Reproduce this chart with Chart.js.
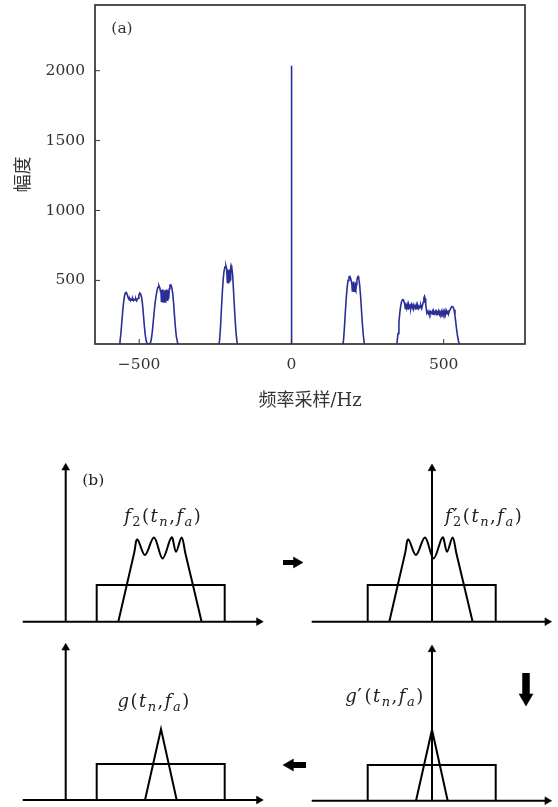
<!DOCTYPE html>
<html>
<head>
<meta charset="utf-8">
<script src="https://cdn.jsdelivr.net/npm/chart.js@4.4.0/dist/chart.umd.min.js"></script>
<style>
  body { margin: 0; background: #fff; width: 558px; height: 807px; position: relative; overflow: hidden; }
  canvas { position: absolute; }
</style>
</head>
<body>
<canvas id="spec" width="558" height="420" style="left:0;top:0"></canvas>
<canvas id="b1" width="279" height="200" style="left:0;top:430px"></canvas>
<canvas id="b2" width="279" height="200" style="left:279px;top:430px"></canvas>
<canvas id="b3" width="279" height="177" style="left:0;top:630px"></canvas>
<canvas id="b4" width="279" height="177" style="left:279px;top:630px"></canvas>
<script>
// ---- panel (a): spectrum ----
var xTicks = [-500, 0, 500];
var yTicks = [500, 1000, 1500, 2000];

var band1Freq = [-580, -566, -563, -560, -557, -554, -551, -548, -545, -542, -539, -536, -533,
  -531, -528.5, -526, -523.5, -521, -518.5, -516, -513.5, -511, -508.5, -506, -503.5,
  -501, -498, -495, -492, -489, -486, -483, -480, -477, -474, -471, -468];
var band1Amp = [0, 30, 60, 120, 200, 280, 345, 390, 412, 414, 398, 375, 362,
  368, 355, 366, 358, 370, 356, 364, 360, 368, 354, 365, 372,
  395, 410, 402, 378, 330, 255, 175, 110, 70, 48, 40, 40];

var band2Freq = [-465, -462, -459, -456, -453, -450, -447, -444, -441, -438, -435, -432, -430,
  -428.5, -427, -425.5, -424, -422.5, -421, -419.5, -418, -416.5, -415, -413.5, -412, -410.5, -409, -407.5, -406, -404.5,
  -403, -401, -399, -396, -393, -390, -387, -384, -381, -378, -374, -368];
var band2Amp = [45, 60, 95, 150, 220, 290, 350, 395, 430, 452, 462, 445, 420,
  432, 352, 428, 348, 436, 360, 422, 345, 430, 356, 428, 350, 434, 358, 424, 352, 430,
  368, 440, 466, 469, 450, 410, 340, 250, 165, 100, 55, 25, 0];

var band3Freq = [-250, -239, -236, -233, -230, -227, -224, -221, -218, -215, -213,
  -211.8, -210.6, -209.4, -208.2, -207, -205.8, -204.6, -203.4, -202.2, -201,
  -199.5, -198, -196, -193, -190, -187, -184, -181, -178, -175, -168];
var band3Amp = [0, 30, 70, 160, 290, 410, 510, 570, 598, 603, 585,
  540, 488, 572, 484, 556, 495, 578, 486, 562, 505,
  585, 606, 592, 540, 420, 300, 190, 105, 50, 22, 0];

var spikeFreq = [-1, 0, 1];
var spikeAmp = [0, 2035, 0];

var band4Freq = [160, 168, 171, 174, 177, 180, 183, 186, 189, 192, 195, 197,
  198.5, 200, 201.5, 203, 204.5, 206, 207.5, 209, 210.5, 212, 213.5,
  215, 217, 219, 221, 224, 227, 230, 233, 236, 239, 242, 250];
var band4Amp = [0, 30, 70, 160, 270, 370, 450, 500, 524, 528, 510, 490,
  470, 425, 482, 428, 492, 422, 476, 435, 486, 424, 470,
  500, 522, 528, 515, 470, 390, 290, 190, 110, 55, 25, 0];

var band5Freq = [335, 344, 347, 350, 353, 356, 359, 362, 365, 368, 370,
  372, 374, 376, 378, 380, 383, 385, 388, 390, 392, 395, 398, 400, 402, 405, 408, 410, 413, 415, 418, 420, 423, 425, 428, 430,
  433, 435, 437, 439, 441, 443, 445,
  447, 450, 452, 455, 457, 460, 463, 465, 468, 470, 473, 476, 478, 481, 483, 486, 488, 491, 494, 496, 499, 501, 504, 506, 509, 511, 514, 516, 519,
  522, 525, 528, 531, 534, 537, 540, 543, 546, 549, 552, 556, 565];
var band5Amp = [0, 30, 60, 120, 200, 270, 320, 350, 362, 360, 345,
  330, 300, 335, 305, 325, 295, 330, 310, 320, 298, 328, 305, 322, 300, 318, 302, 325, 298, 320, 300, 315, 305, 322, 300, 318,
  345, 375, 386, 370, 330, 290, 268,
  275, 262, 278, 260, 276, 265, 280, 258, 275, 262, 278, 255, 274, 262, 280, 258, 276, 260, 282, 256, 278, 262, 285, 255, 280, 262, 285, 260, 282,
  295, 308, 314, 310, 290, 250, 195, 140, 95, 62, 40, 20, 0];

// ---- panel (b): schematic shapes (units = px, origin at the axes crossing) ----
var pulseX = [0, 16, 19, 26.7, 35.7, 44.3, 53.3, 57.7, 63.3, 67, 83.3];
var pulseY = [0, 69.3, 82.3, 66.7, 84.3, 63.3, 84.3, 70, 84.3, 68.7, 0];
var triX = [-16, 0, 15.7];
var triY = [0, 71, 0];
var rectW = 128;

var lineColor = '#2a2e96';
var serif = "'DejaVu Serif'";

function zip(xs, ys) {
  return xs.map(function (x, i) { return { x: x, y: ys[i] }; });
}

var spectrum = [].concat(
  zip(band1Freq, band1Amp), zip(band2Freq, band2Amp), zip(band3Freq, band3Amp),
  zip(spikeFreq, spikeAmp), zip(band4Freq, band4Amp), zip(band5Freq, band5Amp));

function fmtTick(v) {
  return v < 0 ? '\u2212' + Math.abs(v) : String(v);
}

function fitAxis(size) {
  return function (s) {
    if (s.isHorizontal()) s.height = size; else s.width = size;
    s.paddingTop = 0; s.paddingBottom = 0; s.paddingLeft = 0; s.paddingRight = 0;
  };
}

var frame = {
  id: 'frame',
  afterDraw: function (chart) {
    var ctx = chart.ctx, a = chart.chartArea;
    ctx.save();
    ctx.strokeStyle = '#333';
    ctx.lineWidth = 1;
    ctx.beginPath();
    xTicks.forEach(function (v) {
      var x = chart.scales.x.getPixelForValue(v);
      ctx.moveTo(x, a.bottom); ctx.lineTo(x, a.bottom - 5);
    });
    yTicks.forEach(function (v) {
      var y = chart.scales.y.getPixelForValue(v);
      ctx.moveTo(a.left, y); ctx.lineTo(a.left + 5, y);
    });
    ctx.stroke();
    ctx.lineWidth = 1.7;
    ctx.strokeRect(a.left, a.top, a.right - a.left, a.bottom - a.top);
    ctx.fillStyle = '#333';
    ctx.font = '15.5px ' + serif;
    ctx.textAlign = 'center';
    ctx.textBaseline = 'middle';
    ctx.fillText('(a)', a.left + 27, a.top + 24);
    ctx.restore();
  }
};

new Chart(document.getElementById('spec'), {
  type: 'line',
  data: {
    datasets: [{
      data: spectrum,
      borderColor: lineColor,
      borderWidth: 1.6,
      pointRadius: 0,
      tension: 0
    }]
  },
  options: {
    responsive: false,
    animation: false,
    events: [],
    layout: { autoPadding: false, padding: { left: 0, top: 5, right: 33, bottom: 0 } },
    plugins: { legend: { display: false }, tooltip: { enabled: false } },
    scales: {
      x: {
        type: 'linear', min: -645, max: 767,
        afterBuildTicks: function (s) { s.ticks = xTicks.map(function (v) { return { value: v }; }); },
        afterFit: fitAxis(76),
        grid: { display: false, drawTicks: false },
        border: { display: false },
        ticks: { padding: 12, color: '#333', maxRotation: 0, font: { family: serif, size: 15.5 }, callback: fmtTick },
        title: { display: true, text: '频率采样/Hz', color: '#333',
          font: { family: serif + ", 'Noto Sans CJK SC'", size: 18 }, padding: { top: 0, bottom: 7.5 } }
      },
      y: {
        type: 'linear', min: 45, max: 2470,
        afterBuildTicks: function (s) { s.ticks = yTicks.map(function (v) { return { value: v }; }); },
        afterFit: fitAxis(95),
        grid: { display: false, drawTicks: false },
        border: { display: false },
        ticks: { padding: 10, color: '#333', font: { family: serif, size: 15.5 }, callback: fmtTick },
        title: { display: true, text: '幅度', color: '#333',
          font: { family: "'Noto Sans CJK SC'", size: 18 }, padding: { top: 11, bottom: 0 } }
      }
    }
  },
  plugins: [frame]
});

// ---- math labels for panel (b) ----
var labF2 = [['f', 'i'], ['2', 'sub'], ['(', 'r'], ['t', 'i'], ['n', 'subi'], [',', 'r'], ['f', 'i'], ['a', 'subi'], [')', 'r']];
var labF2p = [['f', 'i'], ['2', 'primesub'], ['(', 'r'], ['t', 'i'], ['n', 'subi'], [',', 'r'], ['f', 'i'], ['a', 'subi'], [')', 'r']];
var labG = [['g', 'i'], ['(', 'r'], ['t', 'i'], ['n', 'subi'], [',', 'r'], ['f', 'i'], ['a', 'subi'], [')', 'r']];
var labGp = [['g', 'i'], ['\u2032', 'sup'], ['(', 'r'], ['t', 'i'], ['n', 'subi'], [',', 'r'], ['f', 'i'], ['a', 'subi'], [')', 'r']];
var labB = [['(b)', 'r']];

function drawMath(ctx, segs, cx, cy, size) {
  var sm = Math.round(size * 0.72);
  var fonts = {
    i: 'italic ' + size + 'px ' + serif, r: size + 'px ' + serif,
    sub: sm + 'px ' + serif, subi: 'italic ' + sm + 'px ' + serif,
    pr: (size + 3) + 'px ' + serif
  };
  var gap = segs.length > 1 ? 1.5 : 0;
  var widths = segs.map(function (s) {
    if (s[1] === 'primesub') {
      ctx.font = fonts.pr; var w1 = ctx.measureText('\u2032').width;
      ctx.font = fonts.sub; var w2 = ctx.measureText(s[0]).width;
      return Math.max(w1, w2);
    }
    ctx.font = fonts[s[1] === 'sup' ? 'pr' : s[1]];
    return ctx.measureText(s[0]).width;
  });
  var total = widths.reduce(function (a, b) { return a + b + gap; }, -gap);
  var x = cx - total / 2, base = cy + size * 0.32;
  ctx.textAlign = 'left';
  ctx.textBaseline = 'alphabetic';
  segs.forEach(function (s, i) {
    var k = s[1];
    if (k === 'primesub') {
      ctx.font = fonts.pr; ctx.fillText('\u2032', x, base + 1);
      ctx.font = fonts.sub; ctx.fillText(s[0], x, base + 4);
    } else if (k === 'sup') {
      ctx.font = fonts.pr; ctx.fillText(s[0], x - 1, base + 1);
    } else {
      ctx.font = fonts[k];
      ctx.fillText(s[0], x, base + (k === 'sub' || k === 'subi' ? 4 : 0));
    }
    x += widths[i] + gap;
  });
}

var labelPlugin = {
  id: 'labels',
  afterDraw: function (chart) {
    var ctx = chart.ctx, sx = chart.scales.x, sy = chart.scales.y;
    ctx.save();
    ctx.fillStyle = '#222';
    (chart.options.mathLabels || []).forEach(function (l) {
      drawMath(ctx, l.segs, sx.getPixelForValue(l.x), sy.getPixelForValue(l.y), l.size);
    });
    ctx.restore();
  }
};

function blockArrow(b) {
  // shaft + triangular head, pointing from (x0,y0) to the tip (x1,y1)
  var r = b.head / Math.sqrt(3);
  var dx = Math.sign(b.x1 - b.x0), dy = Math.sign(b.y1 - b.y0);
  var cxh = b.x1 - dx * r, cyh = b.y1 - dy * r;
  var rot = dx > 0 ? 90 : dx < 0 ? 270 : (dy < 0 ? 180 : 0);
  return [
    { data: [{ x: b.x0, y: b.y0 }, { x: cxh, y: cyh }], borderColor: '#000', borderWidth: b.shaft,
      borderCapStyle: 'butt', showLine: true, pointRadius: 0 },
    { data: [{ x: cxh, y: cyh }], pointStyle: 'triangle', pointRadius: r, pointRotation: rot,
      pointBackgroundColor: '#000', pointBorderColor: '#000', pointBorderWidth: 0.5, showLine: false }
  ];
}

function makeDiagram(c) {
  var canvas = document.getElementById(c.id);
  var W = canvas.width, H = canvas.height;
  var black = '#000', lw = 2, ah = 4.5;
  var sets = [];
  var line = function (pts, extra) {
    var d = { data: pts, borderColor: black, borderWidth: lw, showLine: true, pointRadius: 0, tension: 0 };
    for (var k in extra) d[k] = extra[k];
    sets.push(d);
  };
  // axes
  line([{ x: c.hAxis[0], y: 0 }, { x: c.hAxis[1] - ah, y: 0 }]);
  line([{ x: 0, y: 0 }, { x: 0, y: c.vTip - ah }]);
  sets.push({ data: [{ x: c.hAxis[1] - ah, y: 0 }, { x: 0, y: c.vTip - ah }], pointStyle: 'triangle',
    pointRadius: ah, pointRotation: [90, 0], pointBackgroundColor: black, pointBorderColor: black,
    pointBorderWidth: 0.5, showLine: false });
  // rectangle window
  line([{ x: c.rectX, y: 0 }, { x: c.rectX, y: c.rectH }, { x: c.rectX + rectW, y: c.rectH }, { x: c.rectX + rectW, y: 0 }]);
  // signal
  if (c.shape === 'pulse') {
    line(zip(pulseX.map(function (v) { return v + c.shapeX; }), pulseY), { tension: 0.35 });
  } else {
    line(zip(triX.map(function (v) { return v + c.shapeX; }), triY));
  }
  (c.blocks || []).forEach(function (b) { sets = sets.concat(blockArrow(b)); });

  new Chart(canvas, {
    type: 'scatter',
    data: { datasets: sets },
    options: {
      responsive: false, animation: false, events: [],
      layout: { autoPadding: false, padding: 0 },
      plugins: { legend: { display: false }, tooltip: { enabled: false } },
      scales: {
        x: { type: 'linear', display: false, min: c.xMin, max: c.xMin + W },
        y: { type: 'linear', display: false, min: c.yMin, max: c.yMin + H }
      },
      mathLabels: c.labels
    },
    plugins: [labelPlugin]
  });
}

makeDiagram({ id: 'b1', xMin: -65.7, yMin: -8.3, hAxis: [-43, 197.6], vTip: 158.4, rectX: 31, rectH: 36.7,
  shape: 'pulse', shapeX: 52.6,
  labels: [{ segs: labF2, x: 96.8, y: 105.7, size: 18 }, { segs: labB, x: 27.6, y: 141.7, size: 15.5 }] });
makeDiagram({ id: 'b2', xMin: -153, yMin: -8.3, hAxis: [-120.3, 119.7], vTip: 157.7, rectX: -64.3, rectH: 36.7,
  shape: 'pulse', shapeX: -42.7,
  labels: [{ segs: labF2p, x: 51.3, y: 105, size: 18 }],
  blocks: [{ x0: -149, y0: 59.2, x1: -129, y1: 59.2, shaft: 5, head: 11 }] });
makeDiagram({ id: 'b3', xMin: -65.7, yMin: -7, hAxis: [-43, 197.6], vTip: 156.7, rectX: 31, rectH: 36,
  shape: 'tri', shapeX: 95.3,
  labels: [{ segs: labG, x: 87.6, y: 98.3, size: 18 }] });
makeDiagram({ id: 'b4', xMin: -153, yMin: -6.3, hAxis: [-120.3, 119.7], vTip: 155.7, rectX: -64.3, rectH: 35.7,
  shape: 'tri', shapeX: 0,
  labels: [{ segs: labGp, x: -47.8, y: 104, size: 18 }],
  blocks: [{ x0: 94, y0: 127.7, x1: 94, y1: 94.7, shaft: 7.5, head: 14 },
           { x0: -126, y0: 35.7, x1: -149, y1: 35.7, shaft: 6, head: 12 }] });
</script>
</body>
</html>
